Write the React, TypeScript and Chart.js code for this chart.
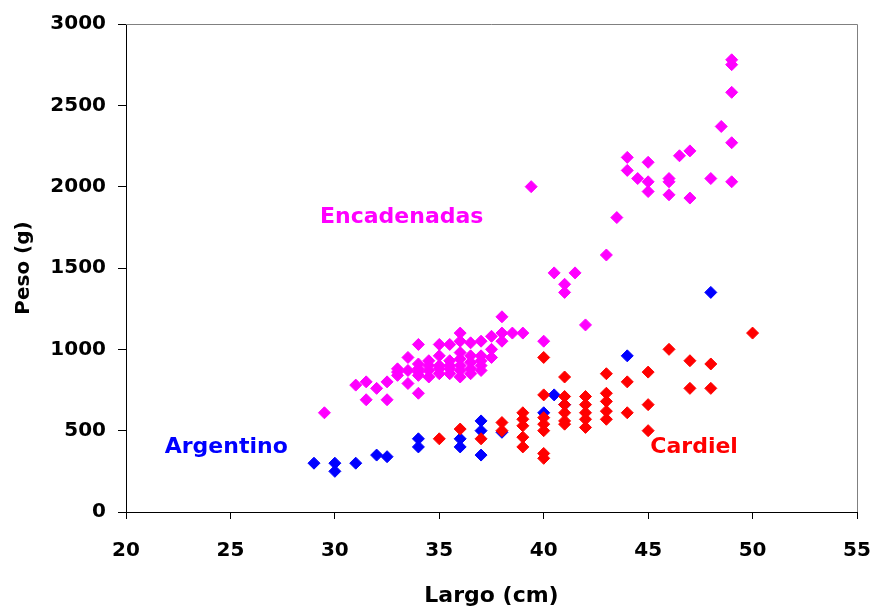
import React, { useEffect, useRef } from "react";
import { Chart, registerables } from "chart.js";

Chart.register(...registerables);

// Argentino (blue)
const argentinoLargo = [29, 30, 30, 31, 32, 32.5, 34, 34, 36, 36, 37, 37, 37, 38, 40, 40.5, 41, 44, 48];
const argentinoPeso = [300, 300, 250, 300, 350, 340, 450, 400, 450, 400, 560, 500, 350, 490, 610, 720, 660, 960, 1350];

// Cardiel (red)
const cardielLargo = [
  35, 36, 37, 38, 38,
  39, 39, 39, 39, 39,
  40, 40, 40, 40, 40, 40, 40,
  41, 41, 41, 41, 41, 41,
  42, 42, 42, 42, 42,
  43, 43, 43, 43, 43,
  44, 44,
  45, 45, 45,
  46, 47, 47, 48, 48, 50,
];
const cardielPeso = [
  450, 510, 450, 550, 500,
  610, 570, 530, 460, 400,
  950, 720, 580, 540, 500, 360, 330,
  830, 710, 660, 610, 560, 540,
  710, 660, 610, 570, 520,
  850, 730, 680, 620, 570,
  800, 610,
  860, 660, 500,
  1000, 930, 760, 910, 760, 1100,
];

// Encadenadas (magenta)
const encadenadasLargo = [
  29.5, 31, 31.5, 31.5, 32, 32.5, 32.5, 33, 33, 33.5, 33.5, 33.5, 34, 34, 34, 34, 34,
  34.5, 34.5, 34.5, 35, 35, 35, 35, 35.5, 35.5, 35.5, 35.5, 36, 36, 36, 36, 36, 36,
  36.5, 36.5, 36.5, 36.5, 37, 37, 37, 37, 37.5, 37.5, 37.5, 38, 38, 38, 38.5, 39, 40,
  33, 34, 34.5, 35, 35.5, 36, 36.5, 37,
  39.4, 40.5, 41, 41, 41.5, 42, 43, 43.5, 44, 44, 44.5, 45, 45, 45, 46, 46, 46, 46.5,
  47, 47, 48, 48.5, 49, 49, 49, 49, 49,
];
const encadenadasPeso = [
  610, 780, 800, 690, 760, 800, 690, 860, 880, 950, 870, 790, 1030, 910, 840, 730, 880,
  930, 870, 830, 1030, 900, 850, 880, 1030, 930, 850, 880, 1100, 980, 900, 830, 870, 1050,
  1040, 920, 850, 880, 1050, 930, 870, 900, 950, 1080, 1000, 1200, 1050, 1100, 1100, 1100, 1050,
  840, 860, 900, 960, 900, 940, 960, 960,
  2000, 1470, 1400, 1350, 1470, 1150, 1580, 1810, 2180, 2100, 2050, 2150, 2030, 1970, 2030, 2050, 1950, 2190,
  2220, 1930, 2050, 2370, 2780, 2750, 2580, 2270, 2030,
];

const xTicks = [20, 25, 30, 35, 40, 45, 50, 55];
const yTicks = [0, 500, 1000, 1500, 2000, 2500, 3000];

const seriesLabels = ["Cardiel", "Argentino", "Encadenadas"];

const toPoints = (xs: number[], ys: number[]) => xs.map((x, i) => ({ x, y: ys[i] }));

const FONT = '"DejaVu Sans", "Liberation Sans", Arial, sans-serif';

const labelsPlugin = {
  id: "seriesLabels",
  afterDraw(chart: any) {
    const { ctx, chartArea, scales } = chart;
    ctx.save();
    // gray frame top/right
    ctx.strokeStyle = "#808080";
    ctx.lineWidth = 1;
    ctx.beginPath();
    ctx.moveTo(chartArea.left, Math.round(chartArea.top) + 0.5);
    ctx.lineTo(Math.round(chartArea.right) + 0.5, Math.round(chartArea.top) + 0.5);
    ctx.lineTo(Math.round(chartArea.right) + 0.5, chartArea.bottom);
    ctx.stroke();

    const items = [
      { text: seriesLabels[2], x: 33.2, y: 1813, color: "#FF00FF" },
      { text: seriesLabels[1], x: 24.8, y: 400, color: "#0000FF" },
      { text: seriesLabels[0], x: 47.2, y: 400, color: "#FF0000" },
    ];
    ctx.font = `bold 22px ${FONT}`;
    ctx.textAlign = "center";
    ctx.textBaseline = "middle";
    for (const it of items) {
      ctx.fillStyle = it.color;
      ctx.fillText(it.text, scales.x.getPixelForValue(it.x), scales.y.getPixelForValue(it.y));
    }
    ctx.restore();
  },
};

export default function App() {
  const ref = useRef<HTMLCanvasElement | null>(null);
  useEffect(() => {
    document.body.style.margin = "0";
    if (!ref.current) return;
    const mk = (label: string, xs: number[], ys: number[], color: string) => ({
      label,
      data: toPoints(xs, ys),
      backgroundColor: color,
      borderColor: color,
      borderWidth: 1,
      pointStyle: "rectRot",
      pointRadius: 6,
      pointHoverRadius: 6,
      showLine: false,
    });
    const chart = new Chart(ref.current, {
      type: "scatter",
      data: {
        datasets: [
          mk(seriesLabels[0], cardielLargo, cardielPeso, "#FF0000"),
          mk(seriesLabels[1], argentinoLargo, argentinoPeso, "#0000FF"),
          mk(seriesLabels[2], encadenadasLargo, encadenadasPeso, "#FF00FF"),
        ],
      },
      options: {
        animation: false,
        responsive: false,
        layout: { padding: { top: 24, right: 17, left: 0, bottom: 0 } },
        plugins: {
          legend: { display: false },
          tooltip: { enabled: false },
          title: { display: false },
        },
        scales: {
          x: {
            type: "linear",
            min: 20,
            max: 55,
            afterFit: (s: any) => {
              s.height = 97;
              s.paddingLeft = 0;
              s.paddingRight = 0;
            },
            afterBuildTicks: (s: any) => {
              s.ticks = xTicks.map((v) => ({ value: v }));
            },
            ticks: {
              color: "#000",
              font: { family: FONT, size: 20, weight: "bold" },
              padding: 20,
              maxRotation: 0,
              callback: (v: any) => String(v),
            },
            grid: { drawOnChartArea: false, drawTicks: true, tickLength: 7, color: "#000" },
            border: { display: true, color: "#000", width: 1 },
            title: {
              display: true,
              text: "Largo (cm)",
              color: "#000",
              font: { family: FONT, size: 22, weight: "bold" },
              padding: { top: 0, bottom: 0 },
            },
          },
          y: {
            type: "linear",
            min: 0,
            max: 3000,
            afterFit: (s: any) => {
              s.width = 126;
              s.paddingTop = 0;
              s.paddingBottom = 0;
            },
            afterBuildTicks: (s: any) => {
              s.ticks = yTicks.map((v) => ({ value: v }));
            },
            ticks: {
              color: "#000",
              font: { family: FONT, size: 20, weight: "bold" },
              padding: 12,
              callback: (v: any) => String(v),
            },
            grid: { drawOnChartArea: false, drawTicks: true, tickLength: 8, color: "#000" },
            border: { display: true, color: "#000", width: 1 },
            title: {
              display: true,
              text: "Peso (g)",
              color: "#000",
              font: { family: FONT, size: 20, weight: "bold" },
              padding: { top: 12, bottom: 0 },
            },
          },
        },
      },
      plugins: [labelsPlugin],
    } as any);
    return () => chart.destroy();
  }, []);
  return (
    <div style={{ width: 874, height: 609, background: "#fff" }}>
      <canvas ref={ref} width={874} height={609} style={{ display: "block" }} />
    </div>
  );
}
